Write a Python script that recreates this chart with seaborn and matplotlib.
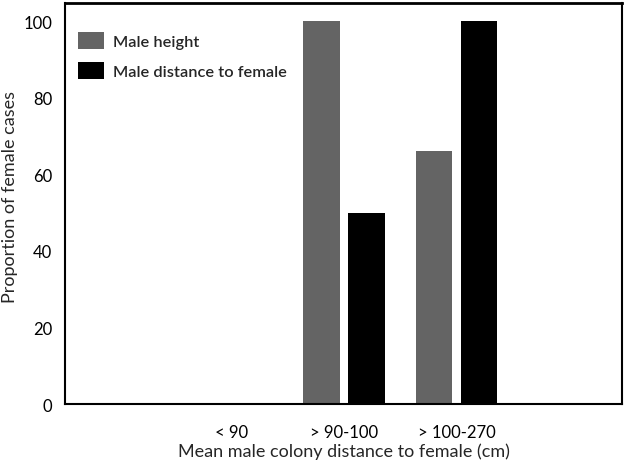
import matplotlib
matplotlib.use("Agg")
import matplotlib.pyplot as plt
import seaborn as sns
import pandas as pd

categories = ["< 90", "> 90-100", "> 100-270"]
male_height = [0, 100, 66]
male_distance = [0, 50, 100]
series_names = ["Male height", "Male distance to female"]

df = pd.DataFrame({
    "cat": categories * 2,
    "val": male_height + male_distance,
    "series": [series_names[0]] * 3 + [series_names[1]] * 3,
})

sns.set_style("white")
plt.rcParams["font.family"] = ["Lato", "DejaVu Sans"]

fig = plt.figure(figsize=(6.25, 4.64), dpi=100)
ax = fig.add_axes([0.104, 0.127, 0.891, 0.864])

sns.barplot(data=df, x="cat", y="val", hue="series", order=categories,
            hue_order=series_names, palette=["#646464", "#000000"],
            width=0.8, gap=0.18, ax=ax, saturation=1, edgecolor="none")

ax.set_xlim(-1.48, 3.47)
ax.set_ylim(0, 104.7)
ax.set_yticks([0, 20, 40, 60, 80, 100])
ax.tick_params(axis="both", direction="in", length=4, width=1, labelsize=12, colors="black")
ax.tick_params(axis="x", pad=14)
ax.tick_params(axis="y", pad=9)
for s in ax.spines.values():
    s.set_visible(True)
    s.set_color("black")
    s.set_linewidth(1.5)
ax.spines["top"].set_linewidth(2.0)

ax.set_xlabel("Mean male colony distance to female (cm)", fontsize=13, labelpad=2)
ax.set_ylabel("Proportion of female cases", fontsize=13, labelpad=8)
ax.yaxis.set_label_coords(-0.085, 0.52)

leg = ax.legend(loc="upper left", frameon=False, fontsize=11.8, handlelength=1.6,
                handleheight=1.2, handletextpad=0.55, labelspacing=0.8,
                borderaxespad=0.0, bbox_to_anchor=(0.012, 0.945))
for t in leg.get_texts():
    t.set_fontweight("semibold")

fig.savefig("out.png", dpi=100)
